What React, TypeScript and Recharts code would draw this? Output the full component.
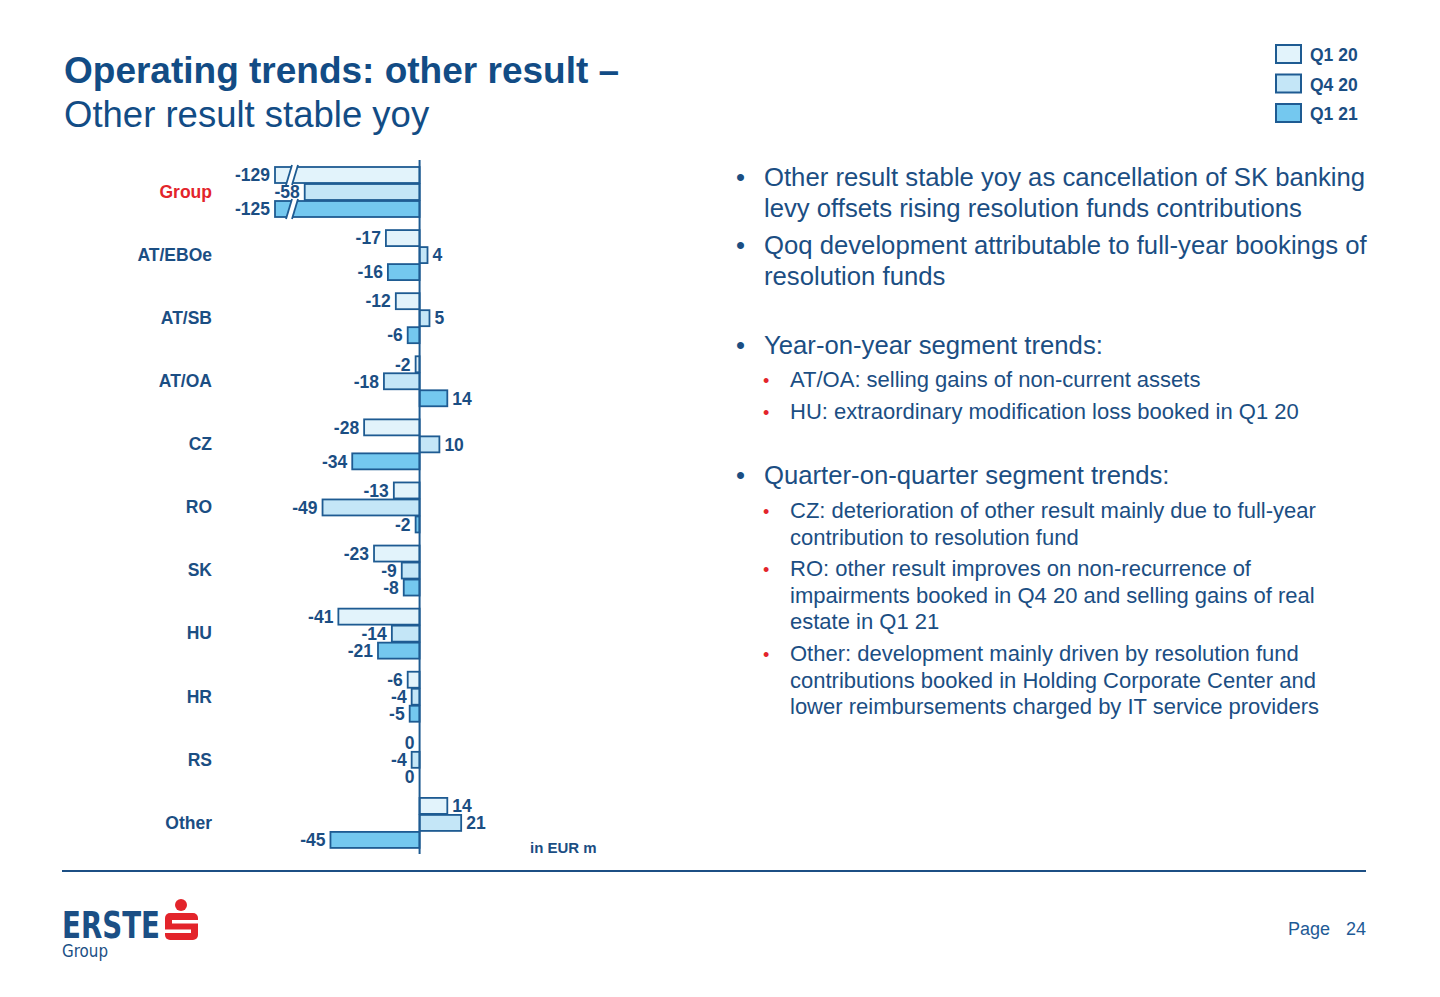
import React from 'react';
import { BarChart, Bar, XAxis, YAxis, ReferenceLine, LabelList } from 'recharts';

const categories = ['Group', 'AT/EBOe', 'AT/SB', 'AT/OA', 'CZ', 'RO', 'SK', 'HU', 'HR', 'RS', 'Other'];
const q120 = [-129, -17, -12, -2, -28, -13, -23, -41, -6, 0, 14];
const q420 = [-58, 4, 5, -18, 10, -49, -9, -14, -4, -4, 21];
const q121 = [-125, -16, -6, 14, -34, -2, -8, -21, -5, 0, -45];
const seriesNames = ['Q1 20', 'Q4 20', 'Q1 21'];
const seriesKeys = ['q120', 'q420', 'q121'];
const AXIS_MIN = -73;
const AXIS_MAX = 30;

const NAVY = '#1B4E83';
const STROKE = '#1E5B92';
const FILLS = ['#E2F3FB', '#C4E6F7', '#74C8EF'];
const FONT = '"Liberation Sans", Arial, sans-serif';

const data = categories.map((name, i) => ({ name, q120: q120[i], q420: q420[i], q121: q121[i] }));

const clampKey = (key: string) => (d: any) => Math.max(d[key], AXIS_MIN);

const makeShape = (key: string, fill: string) => (props: any) => {
  const { x, y, width, height, payload } = props;
  if (x == null || y == null) return null;
  const left = Math.min(x, x + width);
  const w = Math.abs(width);
  const real = payload ? payload[key] : 0;
  const broken = real < AXIS_MIN;
  const bx = left + 11;
  return (
    <g>
      <rect x={left} y={y} width={w} height={height} fill={fill} stroke={STROKE} strokeWidth={1.8} />
      {broken && (
        <g>
          <polygon
            points={`${bx},${y + height + 2} ${bx + 6},${y - 2} ${bx + 12},${y - 2} ${bx + 6},${y + height + 2}`}
            fill="#ffffff"
          />
          <line x1={bx} y1={y + height + 2} x2={bx + 6} y2={y - 2} stroke={STROKE} strokeWidth={1.8} />
          <line x1={bx + 6} y1={y + height + 2} x2={bx + 12} y2={y - 2} stroke={STROKE} strokeWidth={1.8} />
        </g>
      )}
    </g>
  );
};

const makeLabel = (key: string) => (props: any) => {
  const vb = props.viewBox || props;
  const { x, y, width, height } = vb;
  const idx = props.index;
  const real = idx != null && data[idx] ? (data[idx] as any)[key] : props.value;
  if (x == null) return null;
  const left = Math.min(x, x + width);
  const right = Math.max(x, x + width);
  const cy = y + height / 2;
  const neg = real <= 0;
  return (
    <text
      x={neg ? left - 5 : right + 5}
      y={cy}
      dy="0.36em"
      textAnchor={neg ? 'end' : 'start'}
      fill={NAVY}
      fontFamily={FONT}
      fontWeight="bold"
      fontSize={17.5}
    >
      {real}
    </text>
  );
};

const CatTick = (props: any) => {
  const { x, y, payload } = props;
  const isGroup = payload.value === 'Group';
  return (
    <text
      x={x}
      y={y}
      dy="0.36em"
      textAnchor="end"
      fill={isGroup ? '#E3242B' : NAVY}
      fontFamily={FONT}
      fontWeight="bold"
      fontSize={17.5}
    >
      {payload.value}
    </text>
  );
};

const mainBullets = [
  { lines: ['Other result stable yoy as cancellation of SK banking', 'levy offsets rising resolution funds contributions'], base: 186 },
  { lines: ['Qoq development attributable to full-year bookings of', 'resolution funds'], base: 254 },
  { lines: ['Year-on-year segment trends:'], base: 354 },
  { lines: ['Quarter-on-quarter segment trends:'], base: 484 },
];
const subBullets = [
  { lines: ['AT/OA: selling gains of non-current assets'], base: 387 },
  { lines: ['HU: extraordinary modification loss booked in Q1 20'], base: 419 },
  { lines: ['CZ: deterioration of other result mainly due to full-year', 'contribution to resolution fund'], base: 518 },
  { lines: ['RO: other result improves on non-recurrence of', 'impairments booked in Q4 20 and selling gains of real', 'estate in Q1 21'], base: 576 },
  { lines: ['Other: development mainly driven by resolution fund', 'contributions booked in Holding Corporate Center and', 'lower reimbursements charged by IT service providers'], base: 661 },
];

export default function App() {
  return (
    <div style={{ position: 'absolute', left: 0, top: 0, width: 1440, height: 997, background: '#ffffff', fontFamily: FONT }}>
      <div style={{ position: 'absolute', left: 0, top: 0 }}>
        <BarChart
          width={600}
          height={870}
          data={data}
          layout="vertical"
          margin={{ top: 160, right: 121, bottom: 16, left: 0 }}
          barSize={16}
          barGap={1}
        >
          <XAxis type="number" domain={[AXIS_MIN, AXIS_MAX]} hide />
          <YAxis
            type="category"
            dataKey="name"
            width={275}
            axisLine={false}
            tickLine={false}
            tickSize={0}
            tickMargin={63}
            tick={<CatTick />}
            interval={0}
          />
          {seriesKeys.map((k, i) => (
            <Bar
              key={k}
              name={seriesNames[i]}
              dataKey={clampKey(k)}
              fill={FILLS[i]}
              shape={makeShape(k, FILLS[i])}
              isAnimationActive={false}
            >
              <LabelList content={makeLabel(k)} />
            </Bar>
          ))}
          <ReferenceLine x={0} stroke={STROKE} strokeWidth={2} />
        </BarChart>
      </div>
      <svg width={1440} height={997} style={{ position: 'absolute', left: 0, top: 0, pointerEvents: 'none' }}>
        <text x={64} y={83} fill="#124C85" fontFamily={FONT} fontWeight="bold" fontSize={37}>
          Operating trends: other result –
        </text>
        <text x={64} y={127} fill="#124C85" fontFamily={FONT} fontSize={36.5}>
          Other result stable yoy
        </text>
        {seriesNames.map((n, i) => (
          <g key={n}>
            <rect x={1276} y={45 + i * 29.5} width={25} height={18} fill={FILLS[i]} stroke={STROKE} strokeWidth={2} />
            <text x={1310} y={61 + i * 29.5} fill={NAVY} fontFamily={FONT} fontWeight="bold" fontSize={17.5}>
              {n}
            </text>
          </g>
        ))}
        {mainBullets.map((b, i) => (
          <g key={'m' + i}>
            <text x={736} y={b.base} fill={NAVY} fontFamily={FONT} fontSize={25.7}>•</text>
            {b.lines.map((l, j) => (
              <text key={j} x={764} y={b.base + j * 31} fill={NAVY} fontFamily={FONT} fontSize={25.7}>
                {l}
              </text>
            ))}
          </g>
        ))}
        {subBullets.map((b, i) => (
          <g key={'s' + i}>
            <text x={763} y={b.base} fill="#E3242B" fontFamily={FONT} fontSize={18}>•</text>
            {b.lines.map((l, j) => (
              <text key={j} x={790} y={b.base + j * 26.5} fill={NAVY} fontFamily={FONT} fontSize={22}>
                {l}
              </text>
            ))}
          </g>
        ))}
        <text x={530} y={853} fill={NAVY} fontFamily={FONT} fontWeight="bold" fontSize={15}>in EUR m</text>
        <line x1={62} y1={871} x2={1366} y2={871} stroke="#1C4F84" strokeWidth={2} />
        <text x={1288} y={935} fill="#1E5A96" fontFamily={FONT} fontSize={18}>Page</text>
        <text x={1346} y={935} fill="#1E5A96" fontFamily={FONT} fontSize={18}>24</text>
        <text x={62} y={938} fill="#1B4F85" fontFamily='"DejaVu Sans Condensed", "DejaVu Sans", sans-serif' fontWeight="bold" fontSize={38} textLength={98} lengthAdjust="spacingAndGlyphs">
          ERSTE
        </text>
        <text x={62} y={957} fill="#1B4F85" fontFamily='"DejaVu Sans Condensed", "DejaVu Sans", sans-serif' fontSize={18} textLength={46} lengthAdjust="spacingAndGlyphs">
          Group
        </text>
        <circle cx={181} cy={905} r={6} fill="#E3242B" />
        <rect x={165} y={913} width={33} height={27} rx={5} fill="#E3242B" />
        <rect x={172} y={920} width={27} height={3.5} fill="#ffffff" />
        <rect x={164} y={929.5} width={27} height={3.5} fill="#ffffff" />
      </svg>
    </div>
  );
}
